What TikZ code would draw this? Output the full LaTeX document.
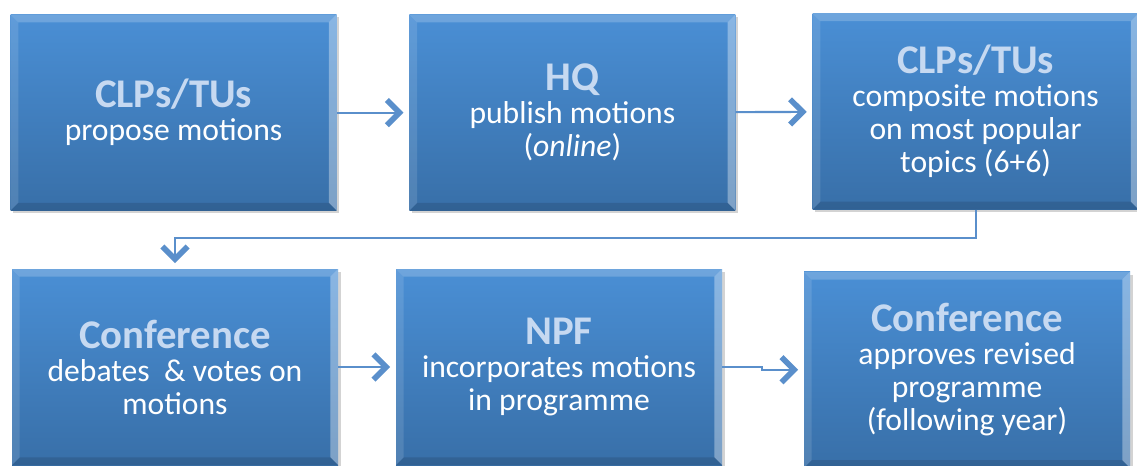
\documentclass[tikz,border=0pt]{standalone}
\usepackage{fontspec}
\setmainfont{Carlito}
\usetikzlibrary{arrows.meta}
\usetikzlibrary{calc}
\usetikzlibrary{shadows}
\definecolor{boxtop}{HTML}{4A8FD5}
\definecolor{boxbot}{HTML}{386FA8}
\definecolor{headcol}{HTML}{C6D9F1}
\definecolor{arrowcol}{HTML}{5A8FCB}
\tikzstyle{stage} = [rectangle, minimum width=8.15cm, minimum height=4.9cm, top color=boxtop, bottom color=boxbot, text=white, align=center, font=\fontsize{22.5}{23.5}\selectfont, drop shadow={shadow xshift=2pt, shadow yshift=-2pt, opacity=0.35}]
\tikzstyle{arrow} = [draw=arrowcol, line width=1.5pt, -{Straight Barb[length=9pt, width=18pt, line width=4pt]}, shorten >=4pt]
\newcommand{\hd}[1]{{\fontsize{29}{25}\selectfont\bfseries\color{headcol}#1}}

\begin{document}
\begin{tikzpicture}
	\useasboundingbox (0,0) rectangle (28.425,11.625);
	\node[stage](prop) at (4.34, 8.81){\hd{CLPs/TUs}\\propose motions};
	\node[stage](pub) at (14.31, 8.81){\hd{HQ}\\publish motions\\(\textit{online})};
	\node[stage](comp) at (24.39, 8.84){\hd{CLPs/TUs}\\composite motions\\on most popular\\topics (6+6)};
	\node[stage](deb) at (4.375, 2.45){\hd{Conference}\\debates~ \& votes on\\motions};
	\node[stage](inc) at (13.975, 2.45){\hd{NPF}\\incorporates motions\\in programme};
	\node[stage](appr) at (24.175, 2.38){\hd{Conference}\\approves revised\\programme\\(following year)};
	% bevelled edges
	\foreach \n in {prop, pub, comp, deb, inc, appr}{
		\fill[white, opacity=0.2] (\n.north west) -- (\n.north east) -- ($(\n.north east)+(-0.2,-0.2)$) -- ($(\n.north west)+(0.2,-0.2)$) -- cycle;
		\fill[white, opacity=0.12] (\n.north west) -- ($(\n.north west)+(0.2,-0.2)$) -- ($(\n.south west)+(0.2,0.2)$) -- (\n.south west) -- cycle;
		\fill[white, opacity=0.35] (\n.north east) -- ($(\n.north east)+(-0.2,-0.2)$) -- ($(\n.south east)+(-0.2,0.2)$) -- (\n.south east) -- cycle;
		\fill[black, opacity=0.12] (\n.south west) -- ($(\n.south west)+(0.2,0.2)$) -- ($(\n.south east)+(-0.2,0.2)$) -- (\n.south east) -- cycle;
	}
	\draw[arrow](prop) -- (pub);
	\draw[arrow](pub) -- (comp);
	\draw[arrow](comp.south) -- ++(0,-0.7) -| (deb.north);
	\draw[arrow](deb) -- (inc);
	\draw[arrow](inc.east) -- ++(1,0) |- (appr.west);
\end{tikzpicture}
\end{document}
